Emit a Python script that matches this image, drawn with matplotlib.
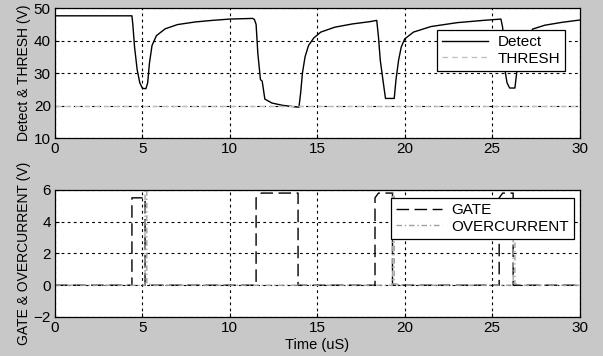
import matplotlib
matplotlib.use("Agg")
import matplotlib.pyplot as plt

# ---- data ----
t_detect = [0, 4.4, 4.45, 4.55, 4.7, 4.85, 5.0, 5.2, 5.3, 5.4, 5.55, 5.8, 6.3, 7.0, 8.0, 9.0, 10.0, 11.3,
            11.4, 11.5, 11.6, 11.75, 11.85, 12.0, 12.4, 13.0, 13.6, 13.95, 14.05, 14.15, 14.3, 14.5, 14.8,
            15.2, 16.0, 17.0, 18.0, 18.4, 18.5, 18.6, 18.75, 18.9, 19.4, 19.5, 19.65, 19.8, 20.0, 20.5,
            21.5, 23.0, 24.5, 25.5, 25.6, 25.7, 25.85, 26.0, 26.3, 26.4, 26.5, 27.2, 27.3, 28.0, 29.0, 30.0]
v_detect = [47.6, 47.6, 45, 38, 31, 27, 25.3, 25.2, 27, 33, 38.5, 41.5, 43.6, 44.9, 45.7, 46.2, 46.6, 46.8,
            46.5, 45, 36, 28, 27.5, 22, 20.8, 20.1, 19.7, 19.5, 24, 30, 35, 38.5, 40.8,
            42.6, 44.1, 45.1, 45.8, 46.2, 41, 34, 28, 22.2, 22.2, 28, 34, 38, 40.5, 42.6,
            44.3, 45.5, 46.2, 46.6, 44, 32, 27, 25.4, 25.4, 30, 33, 33.5, 43.5, 44.7, 45.6, 46.3]
t_thresh = [0, 30]
v_thresh = [20, 20]

t_gate = [0, 4.4, 4.4, 5.15, 5.15, 11.5, 11.5, 11.8, 13.9, 13.9, 18.3, 18.3, 18.5, 19.3, 19.3,
          25.4, 25.4, 25.6, 26.2, 26.2, 30]
v_gate = [0, 0, 5.5, 5.5, 0, 0, 5.5, 5.8, 5.8, 0, 0, 5.5, 5.8, 5.8, 0,
          0, 5.5, 5.8, 5.8, 0, 0]
t_over = [0, 5.15, 5.15, 5.25, 5.25, 5.6, 13.9, 13.95, 13.95, 14.2, 19.3, 19.3, 19.4, 19.4, 19.8,
          26.2, 26.2, 26.3, 26.3, 26.8, 30]
v_over = [0, 0, 6, 6, 0.1, 0, 0, 0, 0.1, 0, 0, 5.8, 5.8, 0.1, 0,
          0, 5, 5, 0.1, 0, 0]

x_ticks = [0, 5, 10, 15, 20, 25, 30]
y1_ticks = [10, 20, 30, 40, 50]
y2_ticks = [-2, 0, 2, 4, 6]

plt.rcParams['font.family'] = ['Liberation Sans', 'DejaVu Sans']
plt.rcParams['font.size'] = 10

fig = plt.figure(figsize=(6.03, 3.56), dpi=100)
fig.patch.set_facecolor('#c8c8c8')

ax1 = fig.add_axes([0.0912, 0.612, 0.870, 0.3655])
ax2 = fig.add_axes([0.0912, 0.1096, 0.870, 0.357])

for ax in (ax1, ax2):
    ax.set_facecolor('white')
    ax.set_xlim(0, 30)
    ax.set_xticks(x_ticks)
    ax.tick_params(direction='in', length=3, color='black', pad=3, labelsize=11)
    ax.grid(True, color='black', linestyle=(0, (2.5, 3)), linewidth=0.8)
    ax.set_axisbelow(True)
    for s in ax.spines.values():
        s.set_linewidth(0.9)

ax1.set_ylim(10, 50)
ax1.set_yticks(y1_ticks)
ax1.plot(t_detect, v_detect, color='black', linewidth=1.0, label='Detect')
ax1.plot(t_thresh, v_thresh, color='#c0c0c0', linewidth=1.0, linestyle=(0, (4, 3)), label='THRESH')
ax1.set_ylabel('Detect & THRESH (V)', labelpad=2, fontsize=10)
leg1 = ax1.legend(loc='upper right', bbox_to_anchor=(0.973, 0.83), fancybox=False, edgecolor='black',
                  framealpha=1, borderpad=0.35, handlelength=3.0, handletextpad=0.6,
                  labelspacing=0.15, fontsize=11, borderaxespad=0)
leg1.get_frame().set_linewidth(0.9)

ax2.set_ylim(-2, 6)
ax2.set_yticks(y2_ticks)
ax2.plot(t_gate, v_gate, color='black', linewidth=1.0, linestyle=(0, (9, 4)), label='GATE')
ax2.plot(t_over, v_over, color='#a0a0a0', linewidth=1.0, linestyle=(0, (4, 2, 1, 2)), label='OVERCURRENT')
ax2.set_ylabel('GATE & OVERCURRENT (V)', labelpad=2, fontsize=10)
ax2.set_xlabel('Time (uS)', labelpad=2, fontsize=10.5)
leg2 = ax2.legend(loc='upper right', bbox_to_anchor=(0.99, 0.937), fancybox=False, edgecolor='black',
                  framealpha=1, borderpad=0.35, handlelength=3.0, handletextpad=0.6,
                  labelspacing=0.15, fontsize=11, borderaxespad=0)
leg2.get_frame().set_linewidth(0.9)

fig.savefig('out.png', dpi=100, facecolor=fig.get_facecolor())
